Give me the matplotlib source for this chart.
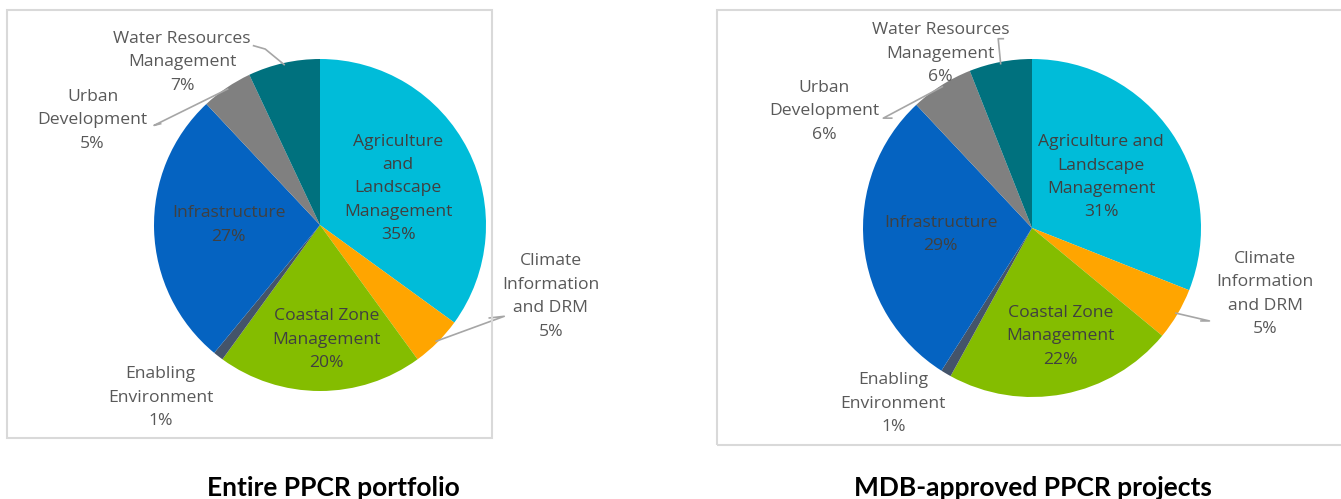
import numpy as np
import matplotlib
matplotlib.use("Agg")
import matplotlib.pyplot as plt
from matplotlib.patches import Rectangle

# ---------------------------------------------------------------------------
# DATA
# ---------------------------------------------------------------------------
categories = ["Agriculture and Landscape Management", "Climate Information and DRM",
              "Coastal Zone Management", "Enabling Environment", "Infrastructure",
              "Urban Development", "Water Resources Management"]
portfolio_pct = [35, 5, 20, 1, 27, 5, 7]
mdb_pct = [31, 5, 22, 1, 29, 6, 6]

# label text as wrapped in the original (one entry per category)
left_names = ["Agriculture\nand\nLandscape\nManagement", "Climate\nInformation\nand DRM",
              "Coastal Zone\nManagement", "Enabling\nEnvironment", "Infrastructure",
              "Urban\nDevelopment", "Water Resources\nManagement"]
right_names = ["Agriculture and\nLandscape\nManagement", "Climate\nInformation\nand DRM",
               "Coastal Zone\nManagement", "Enabling\nEnvironment", "Infrastructure",
               "Urban\nDevelopment", "Water Resources\nManagement"]

titles = ["Entire PPCR portfolio", "MDB-approved PPCR projects"]

# ---------------------------------------------------------------------------
# STYLE / LAYOUT
# ---------------------------------------------------------------------------
colors = ["#00BCD9", "#FFA500", "#84BD00", "#44546A", "#0563C1", "#808080", "#00717E"]
text_col = "#595959"
inner_col = "#404040"
line_col = "#A6A6A6"

W, H = 1341, 499
fig = plt.figure(figsize=(W / 100, H / 100), dpi=100)

# label anchors (unit-radius coords) and leader-line elbow (None = no line)
left_layout = {
    "pos": [(0.47, 0.22), (1.39, -0.43), (0.04, -0.69), (-0.96, -1.04),
            (-0.55, 0.0), (-1.37, 0.63), (-0.83, 0.98)],
    "elbow": [None, [(1.11, -0.55), (1.02, -0.56)], None, None, None,
              [(-1.0, 0.6), (-0.96, 0.61)], [(-0.33, 1.06), (-0.40, 1.08)]],
}
right_layout = {
    "pos": [(0.41, 0.30), (1.38, -0.39), (0.17, -0.64), (-0.82, -1.04),
            (-0.54, -0.04), (-1.23, 0.69), (-0.54, 1.03)],
    "elbow": [None, [(1.05, -0.55), (1.0, -0.55)], None, None, None,
              [(-0.88, 0.65), (-0.83, 0.65)], [(-0.20, 1.12), (-0.17, 1.12)]],
}
inside = [True, False, True, False, True, False, False]

panels = [
    # center x, center y (px from top), radius px, box (x0, y0, x1, y1)
    dict(cx=320, cy=225, r=166, box=(7, 10, 492, 438), tx=333, vals=portfolio_pct,
         names=left_names, layout=left_layout),
    dict(cx=1032, cy=228, r=169, box=(717, 10, 1345, 445), tx=1033, vals=mdb_pct,
         names=right_names, layout=right_layout),
]

for p, title in zip(panels, titles):
    # light frame around each chart
    x0, y0, x1, y1 = p["box"]
    fig.patches.append(Rectangle((x0 / W, 1 - y1 / H), (x1 - x0) / W, (y1 - y0) / H,
                                 transform=fig.transFigure, fill=False,
                                 edgecolor="#D9D9D9", linewidth=1.5))

    r = p["r"]
    ax = fig.add_axes([(p["cx"] - r) / W, (H - p["cy"] - r) / H, 2 * r / W, 2 * r / H])
    wedges, _ = ax.pie(p["vals"], colors=colors, startangle=90, counterclock=False,
                       radius=1, wedgeprops=dict(linewidth=0))
    ax.set_xlim(-1, 1)
    ax.set_ylim(-1, 1)
    ax.set_aspect("equal")
    ax.axis("off")

    for i, w in enumerate(wedges):
        label = f"{p['names'][i]}\n{p['vals'][i]}%"
        lx, ly = p["layout"]["pos"][i]
        ax.text(lx, ly, label, ha="center", va="center", fontsize=12.6,
                color=inner_col if inside[i] else text_col,
                family="Open Sans", linespacing=1.62, clip_on=False)
        elbow = p["layout"]["elbow"][i]
        if elbow is not None:
            mid = np.deg2rad((w.theta1 + w.theta2) / 2)
            pts = [(0.99 * np.cos(mid), 0.99 * np.sin(mid))] + elbow
            xs, ys = zip(*pts)
            ax.plot(xs, ys, color=line_col, linewidth=1.2, clip_on=False)

    fig.text(p["tx"] / W, 1 - 488 / H, title, ha="center", va="center",
             fontsize=19, fontweight="bold", family="Lato", color="black")

fig.savefig("out.png", dpi=100, facecolor="white")
